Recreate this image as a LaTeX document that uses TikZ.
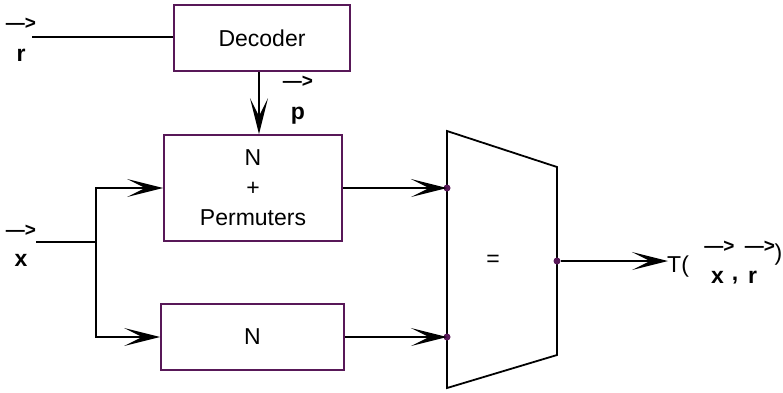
\documentclass[tikz,border=0pt]{standalone}
\usepackage{fontspec}
\setmainfont{Liberation Sans}
\usepackage{xcolor}
\definecolor{boxpurple}{RGB}{88,24,88}
\usetikzlibrary{arrows.meta, positioning, calc}

\begin{document}
\begin{tikzpicture}[x=1pt, y=-1pt,
    blk/.style={draw=boxpurple, line width=1.8pt, inner sep=0pt,
                font=\fontsize{23}{30}\selectfont, align=center},
    plain/.style={line width=1.8pt},
    wire/.style={line width=1.8pt, -{Stealth[length=36pt, width=18pt, inset=18pt]}},
    dot/.style={circle, fill=boxpurple, inner sep=0pt, minimum size=7pt},
    vec/.style={font=\fontsize{19}{19}\selectfont\bfseries, inner sep=0pt},
    lbl/.style={font=\fontsize{23}{23}\selectfont\bfseries, inner sep=0pt}]
    \useasboundingbox (0,0) rectangle (783,392);
    \node[blk, minimum width=176pt, minimum height=66pt] (dec) at (262,38) {Decoder};
    \node[blk, minimum width=178pt, minimum height=106pt] (perm) at (253,188) {N\\+\\Permuters};
    \node[blk, minimum width=183pt, minimum height=66pt] (nbox) at (252.5,337) {N};
    % comparator
    \draw[plain] (447,131) -- (557,167) -- (557,355) -- (447,388) -- cycle;
    \node[font=\fontsize{23}{23}\selectfont] (eq) at (493,261) {=};
    \node[dot] (in1) at (447,188) {};
    \node[dot] (in2) at (447,337) {};
    \node[dot] (out) at (557,261) {};
    % inputs
    \coordinate (rin) at (32,37);
    \coordinate (xin) at (36,242);
    \coordinate (br) at (96,242);
    \coordinate (tout) at (668,261);
    \draw[plain] (rin) -- (rin -| dec.west);
    \draw[wire] ([xshift=-3pt]dec.south) -- ([xshift=-3pt]dec.south |- perm.north);
    \draw[plain] (xin) -- (br);
    \draw[wire] (br) |- (perm.west);
    \draw[wire] (br) |- (nbox.west);
    \draw[wire] (perm.east) -- (in1.center);
    \draw[wire] (nbox.east) -- (in2.center);
    \draw[wire] (out) -- (tout);
    % labels
    \node[vec] (rvec) at (21,24) {--->};
    \node[lbl] (rlab) at (21,55.5) {r};
    \node[vec] (pvec) at (298,82) {--->};
    \node[lbl] (plab) at (298,116) {p};
    \node[vec] (xvec) at (21,231) {--->};
    \node[lbl] (xlab) at (21,260) {x};
    \node[font=\fontsize{23}{23}\selectfont, inner sep=0pt, anchor=west] (tlab) at (667,267) {T(};
    \node[vec] (txvec) at (719.5,246.5) {--->};
    \node[vec] (trvec) at (760,246.5) {--->};
    \node[lbl] (txlab) at (717.5,277.5) {x};
    \node[lbl] (tcomma) at (735,281) {,};
    \node[lbl] (trlab) at (752.5,277.5) {r};
    \node[font=\fontsize{23}{23}\selectfont, inner sep=0pt] (tclose) at (778.5,254.5) {)};
\end{tikzpicture}
\end{document}
